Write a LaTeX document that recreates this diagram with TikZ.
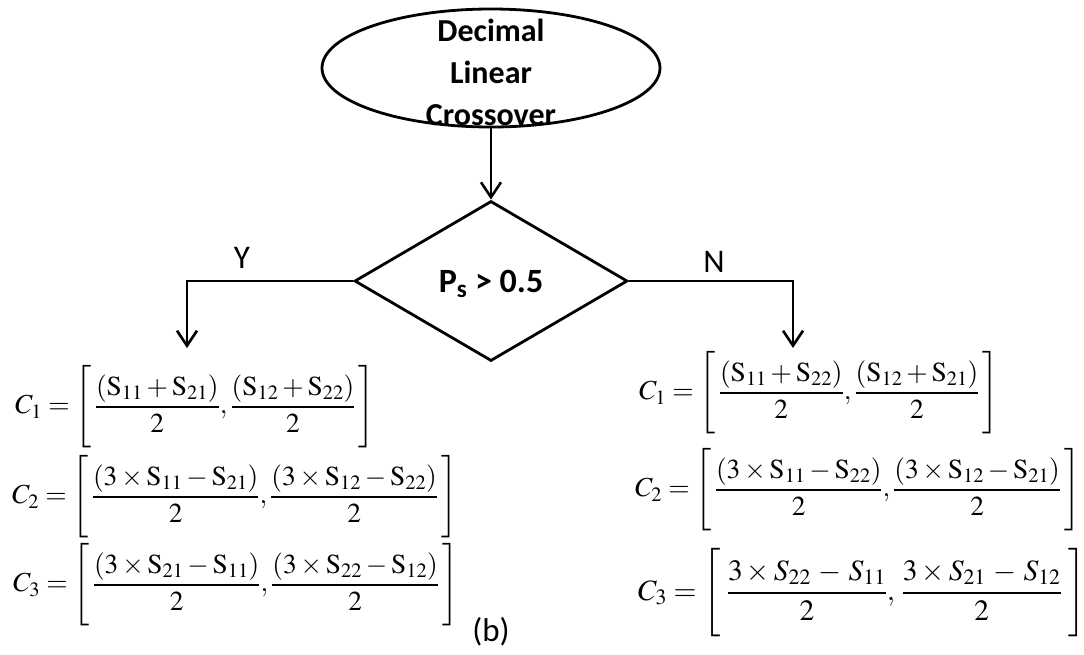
\documentclass[tikz,border=0pt]{standalone}
\usepackage{mathptmx}
\usepackage[no-math]{fontspec}
\setmainfont{Liberation Serif}
\newfontfamily\calib{Carlito}
\usetikzlibrary{shapes.geometric,arrows.meta}
\delimitershortfall=0pt
\delimiterfactor=1000
\newcommand{\tall}{\rule[-1.12em]{0pt}{2.74em}}
\tikzset{
  shp/.style={draw, line width=2.8pt},
  conn/.style={line width=2.8pt, -{Straight Barb[length=15pt,width=20pt,line width=2.6pt]}},
  lbl/.style={font=\calib\fontsize{33}{38}\selectfont, inner sep=0},
  ttl/.style={font=\calib\bfseries\fontsize{32}{42}\selectfont, align=center, inner sep=0},
  cnd/.style={font=\calib\bfseries\fontsize{34}{40}\selectfont, inner sep=0},
  eq/.style={anchor=west, inner sep=0, font=\fontsize{27.5}{32}\selectfont},
  eqb/.style={anchor=west, inner sep=0, font=\fontsize{29.5}{34}\selectfont},
}
\begin{document}
\begin{tikzpicture}[x=1pt,y=-1pt]
\useasboundingbox (0,0) rectangle (1084,654);
\node[shp, ellipse, minimum width=338pt, minimum height=118pt, inner sep=0] (ell) at (491,68) {};
\node[ttl] (title) at (491,72) {Decimal\\Linear\\Crossover};
\node[shp, diamond, minimum width=273pt, minimum height=160pt, inner sep=0] (dia) at (491,281) {};
\node[cnd] (cond) at (491,284) {P\textsubscript{s} > 0.5};
\coordinate (ly) at (187,348);
\coordinate (ry) at (793,348);
\draw[conn] (ell.south) -- (dia.north);
\draw[conn] (dia.west) -| (ly);
\draw[conn] (dia.east) -| (ry);
\node[lbl] (yes) at (242,258) {Y};
\node[lbl] (no) at (714,262) {N};
\node[eq] (l1) at (15,407) {$\displaystyle C_1=\left[\tall\,\frac{(\mathrm{S}_{11}+\mathrm{S}_{21})}{2},\frac{(\mathrm{S}_{12}+\mathrm{S}_{22})}{2}\,\right]$};
\node[eq] (l2) at (12,497) {$\displaystyle C_2=\left[\tall\,\frac{(3\times\mathrm{S}_{11}-\mathrm{S}_{21})}{2},\frac{(3\times\mathrm{S}_{12}-\mathrm{S}_{22})}{2}\,\right]$};
\node[eq] (l3) at (13,585) {$\displaystyle C_3=\left[\tall\,\frac{(3\times\mathrm{S}_{21}-\mathrm{S}_{11})}{2},\frac{(3\times\mathrm{S}_{22}-\mathrm{S}_{12})}{2}\,\right]$};
\node[eq] (r1) at (639,393) {$\displaystyle C_1=\left[\tall\,\frac{(\mathrm{S}_{11}+\mathrm{S}_{22})}{2},\frac{(\mathrm{S}_{12}+\mathrm{S}_{21})}{2}\,\right]$};
\node[eq] (r2) at (635,490) {$\displaystyle C_2=\left[\tall\,\frac{(3\times\mathrm{S}_{11}-\mathrm{S}_{22})}{2},\frac{(3\times\mathrm{S}_{12}-\mathrm{S}_{21})}{2}\,\right]$};
\node[eqb] (r3) at (638,593) {$\displaystyle C_3=\left[\rule[-0.95em]{0pt}{2.45em}\;\frac{3\times S_{22}\,-\,S_{11}}{2},\,\frac{3\times S_{21}\,-\,S_{12}}{2}\;\right]$};
\node[lbl] (cap) at (491,632) {(b)};
\end{tikzpicture}
\end{document}
